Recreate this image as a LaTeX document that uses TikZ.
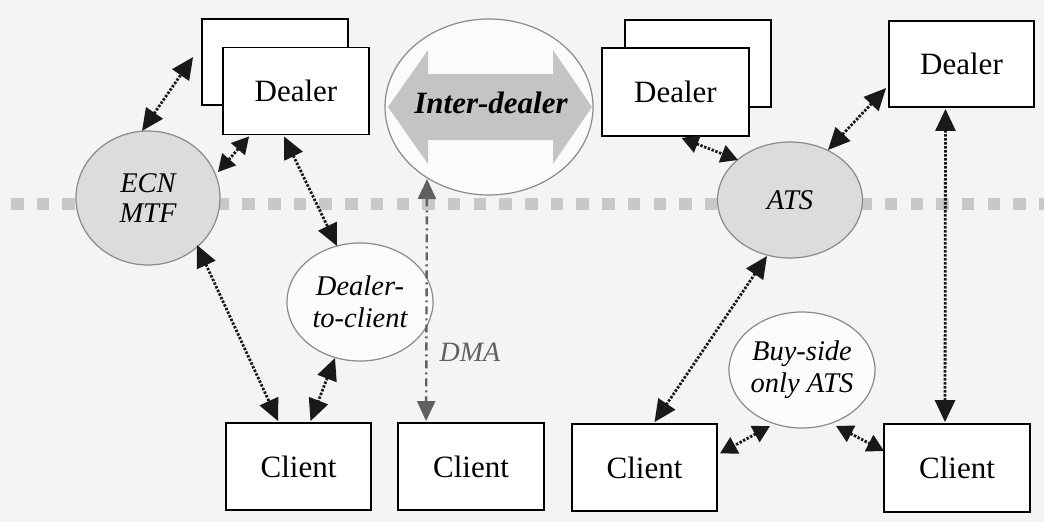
\documentclass[tikz,border=0pt]{standalone}
\usepackage{fontspec}
\setmainfont{Liberation Serif}
\usetikzlibrary{shapes.geometric,arrows.meta,calc}
\definecolor{bgcol}{HTML}{F4F4F4}
\definecolor{ellfill}{HTML}{DCDCDC}
\definecolor{sepcol}{HTML}{C8C8C8}
\definecolor{arrfill}{HTML}{C4C4C4}
\definecolor{ellline}{HTML}{8A8A8A}
\definecolor{dmacol}{HTML}{606060}
\begin{document}
\begin{tikzpicture}[x=1pt,y=-1pt,
  box/.style={draw=black,line width=1.8pt,fill=white,minimum width=146pt,minimum height=87pt,inner sep=0pt,font=\fontsize{31}{33}\selectfont},
  ell/.style={ellipse,draw=ellline,line width=1.2pt,inner sep=0pt,align=center,font=\fontsize{28.5}{32}\selectfont\itshape},
  link/.style={black!90,line width=2.8pt,dash pattern=on 2.4pt off 1.6pt,{Triangle[length=22pt,width=20pt]}-{Triangle[length=22pt,width=20pt]}},
  shortlink/.style={black!90,line width=2.8pt,dash pattern=on 2.4pt off 1.6pt,{Triangle[length=17pt,width=18pt]}-{Triangle[length=17pt,width=18pt]}},
  dmalink/.style={dmacol,line width=2.4pt,dash pattern=on 8pt off 4pt on 2pt off 4pt,{Triangle[length=20pt,width=18pt]}-{Triangle[length=20pt,width=18pt]}},
]
\fill[bgcol] (0,0) rectangle (1044,522);
\useasboundingbox (0,0) rectangle (1044,522);

% separator
\coordinate (sepL) at (11,204);
\coordinate (sepR) at (1044,204);
\draw[sepcol,line width=12pt,dash pattern=on 12.5pt off 13.2pt] (sepL) -- (sepR);

% dealer boxes
\node[box,minimum width=146pt,minimum height=86pt] (dealerAback) at (275,62) {};
\node[box] (dealerA) at (296,91) {Dealer};
\node[box] (dealerBback) at (698,63.5) {};
\node[box,minimum width=147pt,minimum height=88pt] (dealerB) at (675.5,92) {Dealer};
\node[box,minimum width=145pt,minimum height=86pt] (dealerC) at (961.5,64) {Dealer};

% inter-dealer
\node[ellipse,draw=ellline,line width=1.2pt,fill=white!60!bgcol,minimum width=208pt,minimum height=176pt,inner sep=0pt] (interdealer) at (489,107) {};
\fill[arrfill] ($(interdealer.center)+(-101,0)$) -- ++(40,-57) -- ++(0,24) -- ++(125,0) -- ++(0,-24) -- ++(39,57) -- ++(-39,57) -- ++(0,-24) -- ++(-125,0) -- ++(0,24) -- cycle;
\node[font=\fontsize{31}{33}\selectfont\bfseries\itshape] (idtext) at ($(interdealer.center)+(2,-4)$) {Inter-dealer};

% ellipses
\node[ell,fill=ellfill,minimum width=144pt,minimum height=134pt] (ecn) at (148,198) {ECN\\[-2pt]MTF};
\node[ell,fill=ellfill,minimum width=145pt,minimum height=116pt] (ats) at (790,200) {ATS};
\node[ell,fill=white!70!bgcol,minimum width=146pt,minimum height=118pt] (d2c) at (360,302) {Dealer-\\to-client};
\node[ell,fill=white!70!bgcol,minimum width=146pt,minimum height=116pt] (buyside) at (802,370) {Buy-side\\only ATS};

% clients
\node[box,minimum width=145pt] (client1) at (298.5,466.5) {Client};
\node[box] (client2) at (471,466.5) {Client};
\node[box,minimum width=145pt] (client3) at (644.5,467.5) {Client};
\node[box,minimum height=88pt] (client4) at (957,468) {Client};

% DMA label
\node[dmacol,font=\fontsize{28}{30}\selectfont\itshape] (dma) at (470,352) {DMA};

% connectors
\draw[link] ($(ecn.center)+(-6,-67)$) -- ($(dealerAback.west)+(-8,-5)$);
\draw[shortlink] ($(ecn.center)+(70,-26)$) -- ($(dealerA.south west)+(27,1)$);
\draw[link] ($(dealerA.south)+(-12,1)$) -- ($(d2c.center)+(-23,-56)$);
\draw[link] ($(ecn.center)+(49,47)$) -- ($(client1.north west)+(53,-1)$);
\draw[link] ($(d2c.center)+(-25,56)$) -- ($(client1.north)+(12,-1)$);
\draw[dmalink] ($(interdealer.center)+(-62,72)$) -- ($(client2.north west)+(29,-1)$);
\draw[shortlink] ($(dealerB.south)+(6,1)$) -- ($(ats.center)+(-52,-40)$);
\draw[link] ($(dealerC.west)+(-2,24)$) -- ($(ats.center)+(38,-50)$);
\draw[link] ($(dealerC.south)+(-16,1)$) -- ($(client4.north)+(-12,-1)$);
\draw[link] ($(ats.center)+(-23,56)$) -- ($(client3.north)+(10,-1)$);
\draw[shortlink] ($(buyside.center)+(-32,56)$) -- ($(client3.east)+(2,-14)$);
\draw[shortlink] ($(buyside.center)+(34,56)$) -- ($(client4.west)+(1,-17)$);
\end{tikzpicture}
\end{document}
